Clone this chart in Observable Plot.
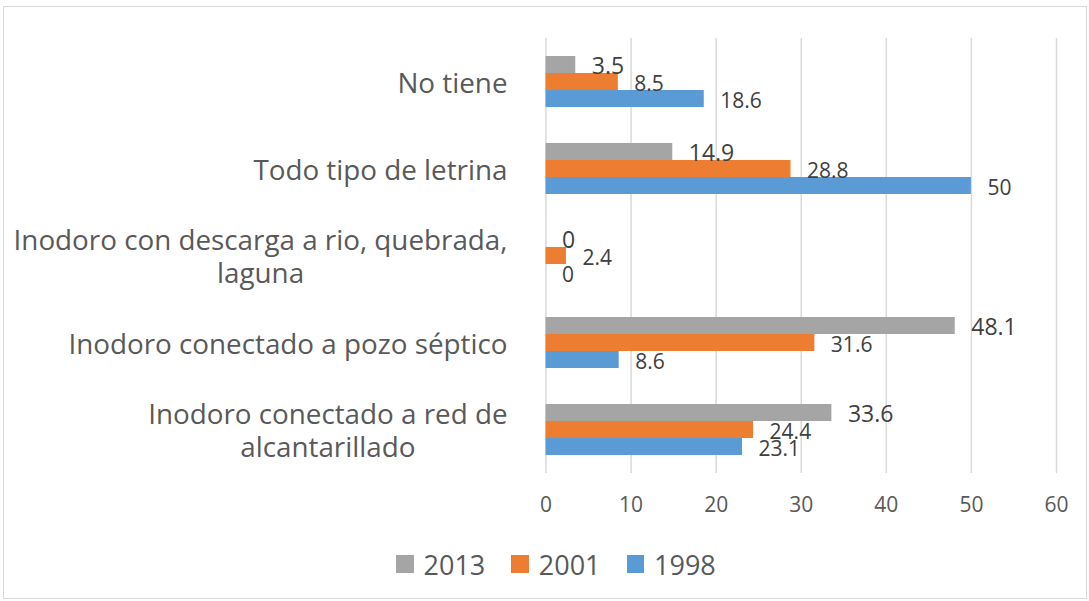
<!DOCTYPE html>
<html>
<head>
<meta charset="utf-8">
<script src="https://cdn.jsdelivr.net/npm/d3@7"></script>
<script src="https://cdn.jsdelivr.net/npm/@observablehq/plot@0.6"></script>
<style>
  html, body { margin: 0; padding: 0; background: #fff; }
  #wrap { position: relative; width: 1089px; height: 601px; overflow: hidden; font-family: "Open Sans", sans-serif; }
  #chart svg { display: block; }
  #frame { position: absolute; left: 3px; top: 6px; right: 2px; bottom: 2px; border: 1.5px solid #d9d9d9; pointer-events: none; }
  #legend { position: absolute; left: 396px; top: 544px; height: 40px; display: flex; align-items: center; font-size: 27px; color: #595959; }
  #legend .sw { width: 17.5px; height: 17.5px; margin-right: 10px; }
  #legend .item { display: flex; align-items: center; margin-right: 26px; }
</style>
</head>
<body>
<div id="wrap">
  <div id="chart"></div>
  <div id="legend"></div>
  <div id="frame"></div>
</div>
<script>
const categories = [
  "No tiene",
  "Todo tipo de letrina",
  "Inodoro con descarga a rio, quebrada, laguna",
  "Inodoro conectado a pozo séptico",
  "Inodoro conectado a red de alcantarillado"
];
const categoryLabels = [
  "No tiene",
  "Todo tipo de letrina",
  "Inodoro con descarga a rio, quebrada,\nlaguna",
  "Inodoro conectado a pozo séptico",
  "Inodoro conectado a red de\nalcantarillado"
];
const years = ["2013", "2001", "1998"];
const values2013 = [3.5, 14.9, 0, 48.1, 33.6];
const values2001 = [8.5, 28.8, 2.4, 31.6, 24.4];
const values1998 = [18.6, 50, 0, 8.6, 23.1];
const colors = ["#a5a5a5", "#ed7d31", "#5b9bd5"];
const xTicks = [0, 10, 20, 30, 40, 50, 60];

const seriesValues = [values2013, values2001, values1998];
const data = [];
categories.forEach((c, i) => {
  years.forEach((y, j) => data.push({cat: c, year: y, value: seriesValues[j][i]}));
});

const plot = Plot.plot({
  width: 1089,
  height: 535,
  marginLeft: 545.5,
  marginRight: 33,
  marginTop: 36,
  marginBottom: 61,
  style: {fontFamily: "Open Sans, sans-serif", fontSize: "21px", color: "#595959", background: "transparent"},
  fy: {domain: categories, padding: 0, axis: null},
  y: {domain: years, paddingInner: 0, paddingOuter: 0.936, axis: null},
  x: {domain: [0, 60], ticks: xTicks, tickSize: 0, tickPadding: 24, label: null, tickFormat: d => String(d)},
  color: {domain: years, range: colors},
  marks: [
    Plot.gridX(xTicks, {stroke: "#d9d9d9", strokeOpacity: 1, strokeWidth: 1.5}),
    Plot.barX(data, {fy: "cat", y: "year", x: "value", fill: "year", insetTop: 0, insetBottom: 0}),
    Plot.text(data.filter(d => d.year === "2013"), {fy: "cat", y: "year", x: "value", text: d => String(d.value), dx: 16, dy: 2, textAnchor: "start", fontSize: 23, fill: "#404040"}),
    Plot.text(data.filter(d => d.year !== "2013"), {fy: "cat", y: "year", x: "value", text: d => String(d.value), dx: 16, dy: 2, textAnchor: "start", fontSize: 21, fill: "#404040"}),
    Plot.text(categories, {fy: d => d, text: (d, i) => categoryLabels[i], frameAnchor: "left", dx: -38.5, textAnchor: "end", lineAnchor: "middle", lineHeight: 1.2, fontSize: 27.8, fill: "#595959"})
  ]
});

document.getElementById("chart").appendChild(plot);

// center the lines of multi-line category labels within their right-aligned block
plot.querySelectorAll("text").forEach(t => {
  const spans = t.querySelectorAll("tspan");
  if (spans.length > 1) {
    const bb = t.getBBox();
    const cx = bb.x + bb.width / 2;
    t.setAttribute("text-anchor", "middle");
    spans.forEach(s => s.setAttribute("x", cx));
  }
});

const legend = document.getElementById("legend");
years.forEach((y, j) => {
  const item = document.createElement("div");
  item.className = "item";
  const sw = document.createElement("div");
  sw.className = "sw";
  sw.style.background = colors[j];
  const label = document.createElement("span");
  label.textContent = y;
  item.appendChild(sw);
  item.appendChild(label);
  legend.appendChild(item);
});
</script>
</body>
</html>
